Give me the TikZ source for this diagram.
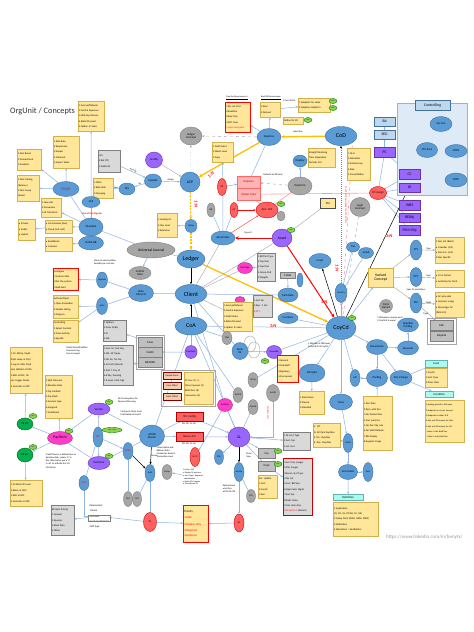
\documentclass[tikz,border=0pt]{standalone}
\usepackage{fontspec}
\setmainfont{Carlito}
\usetikzlibrary{shapes.geometric,arrows.meta,calc}
\definecolor{cblue}{HTML}{5B9BD5}
\definecolor{cbluedk}{HTML}{41719C}
\definecolor{cgray}{HTML}{A6A6A6}
\definecolor{cgraydk}{HTML}{7F7F7F}
\definecolor{cpurp}{HTML}{9966FF}
\definecolor{cpurpdk}{HTML}{7030A0}
\definecolor{cred}{HTML}{FF6161}
\definecolor{cmag}{HTML}{FF3DC8}
\definecolor{cgreen}{HTML}{00B050}
\definecolor{ctag}{HTML}{92D050}
\definecolor{cyel}{HTML}{FFE699}
\definecolor{cyeld}{HTML}{BF9000}
\definecolor{cgbox}{HTML}{D9D9D9}
\definecolor{cgboxd}{HTML}{BFBFBF}
\definecolor{cline}{HTML}{8FB4E3}
\definecolor{ccyan}{HTML}{A9FBEF}
\definecolor{cpink}{HTML}{FF9B9B}
\definecolor{cpinkf}{HTML}{FFB3B3}
\definecolor{cctrl}{HTML}{DEEBF7}
\definecolor{csalmon}{HTML}{F8CBAD}
\definecolor{cthick}{HTML}{FFC000}
\definecolor{cltblue}{HTML}{BDD7EE}
\newcommand\szA{\fontsize{6}{7}\selectfont}
\newcommand\szB{\fontsize{3.8}{4.4}\selectfont}
\newcommand\szC{\fontsize{2.9}{3.4}\selectfont}
\newcommand\szD{\fontsize{2.5}{5.4}\selectfont}
\newcommand\szE{\fontsize{2.4}{3.1}\selectfont}
\newcommand\szT{\fontsize{8.3}{10}\selectfont}
\newcommand\bx[7][ybox]{%
  \pgfmathsetmacro\bxw{#5-#3}\pgfmathsetmacro\bxh{#6-#4}\pgfmathsetmacro\bxt{#5-#3-2}%
  \node[#1,anchor=north west,minimum width=\bxw pt,minimum height=\bxh pt,text width=\bxt pt] (#2) at (#3,#4) {#7};}
\pgfdeclarelayer{back}\pgfdeclarelayer{bg}\pgfsetlayers{back,bg,main}
\tikzset{
 sz/.style 2 args={minimum width=#1pt,minimum height=#2pt},
 ov/.style={ellipse,inner sep=0pt,align=center,font=\szC,line width=0.4pt},
 bov/.style={ov,fill=cblue,draw=cbluedk},
 gov/.style={ov,fill=cgray,draw=cgraydk},
 pov/.style={ov,fill=cpurp,draw=cpurpdk},
 rov/.style={ov,fill=cred,draw=red!80!black},
 mov/.style={ov,fill=cmag,draw=cmag!70!black},
 grov/.style={ov,fill=cgreen,draw=green!40!black},
 tag/.style={ov,fill=ctag,draw=green!50!black,minimum width=8pt,minimum height=5pt,font=\fontsize{1.6}{2}\selectfont},
 ybox/.style={rectangle,fill=cyel,draw=cyeld!70,line width=0.3pt,inner sep=1pt,align=left,font=\szD},
 yrbox/.style={ybox,draw=red,line width=0.6pt},
 gbox/.style={ybox,fill=cgbox,draw=cgraydk},
 grbox/.style={gbox,draw=red!80!black,line width=0.6pt},
 cbox/.style={ybox,fill=cgboxd,draw=cgraydk,align=center,font=\szC},
 pbox/.style={ybox,fill=cpurp,draw=cpurpdk,align=center,font=\szB},
 lbbox/.style={ybox,fill=cltblue,draw=cbluedk,align=center,font=\szB},
 rbox/.style={ybox,fill=cred,draw=red!70!black,align=center,font=\szC},
 pkbox/.style={ybox,fill=cpinkf,draw=red!60,align=center,font=\szC,text=red!70!black},
 cybox/.style={ybox,fill=ccyan,draw=teal!60,align=center,font=\szC},
 sabox/.style={ybox,fill=csalmon,draw=red!50!black,align=center,font=\szE},
 lbl/.style={font=\szE,inner sep=0.3pt,align=left},
 rl/.style={font=\fontsize{4.5}{5}\selectfont\bfseries\itshape,text=red,inner sep=0pt},
 con/.style={draw=cline,line width=0.5pt,-{Stealth[length=2.4pt,width=2pt]}},
 ln/.style={draw=cline,line width=0.5pt},
 gln/.style={draw=cgray,line width=0.4pt},
 gcon/.style={gln,-{Stealth[length=2.4pt,width=2pt]}},
 pln/.style={draw=cpink,line width=0.6pt},
 bcon/.style={draw=black,line width=0.5pt,-{Stealth[length=2.6pt,width=2.2pt]}},
 ycon/.style={draw=cthick,line width=1.3pt,-{Stealth[length=3.5pt,width=3.5pt]}},
 rcon/.style={draw=red,line width=1pt,-{Stealth[length=3.5pt,width=3.5pt]}},
 ocon/.style={draw=cthick,line width=1.2pt,dash pattern=on 2pt off 1.2pt,-{Stealth[length=3pt,width=3pt]}},
}
\begin{document}
\begin{tikzpicture}[x=1pt,y=-1pt]
\begin{pgfonlayer}{back}
\fill[white] (0,0) rectangle (474,632);
\end{pgfonlayer}
\useasboundingbox (0,0) rectangle (474,632);

\node[anchor=west,font=\szT,text=black!80,inner sep=0] (title) at (10,111) {OrgUnit / Concepts};

% ---------- Controlling frame
\node[rectangle,fill=cctrl,draw=cline,line width=0.6pt,anchor=north west,minimum width=70pt,minimum height=92pt,inner sep=0] (ctrlfr) at (397,103) {};
\bx[lbbox]{ctrlhd}{415}{100}{450}{110}{Controlling}

% ---------- top left
\bx{bA}{78}{101}{104}{131}{1.Accrual/Deferral\\2.Central Expenses\\3.Mid-Cap Dimens.\\4.Refer/Proceed\\5.Option Sr Sales}
\bx{bB}{53}{136}{79}{168}{1.Risk Base\\2.Responsive\\3.Simple\\4.Coherent\\5.Import Value}
\bx{bC}{17}{149}{41}{170}{1.Fast Brand\\2.Transactional\\3.Analytics}
\bx{bD}{17}{175}{39}{201}{1.Fast Catalog\\(balance)\\2.Fast Group\\(team)}
\bx{bE}{41}{198}{61}{217}{1.New Hat\\2.Conversion\\3.LE Transform}
\bx{bF}{93}{178}{113}{198}{1.GlPos\\2.Bulk Rate\\3.Grouping}
\bx[gbox]{gG}{98}{150}{120}{172}{LCS\\2.Bck (PI)\\3.AAAA (K)}
\bx{bPriv}{18}{219}{35}{240}{• Private\\• Public\\• Hybrid}
\bx{bOnprem}{45}{220}{72}{233}{• On-Premises [Box]\\• Cloud [Just self]}
\bx{bRoad}{45}{237}{72}{251}{• Roadblocks\\• Cutovers}
\node[bov,sz={26}{15},text=red,font=\szB] (fooh) at (66,189) {FOOH};
\node[bov,sz={18}{11}] (lgs) at (91,202) {LGS};
\node[rl,font=\fontsize{2.5}{3}\selectfont\bfseries] (lgsnote) at (92,214) {Line of the diagram};
\node[bov,sz={24}{18}] (sahaga) at (91,227) {SA-HAGA};
\node[bov,sz={25}{14}] (hanadb) at (91,243) {HANA DB};
\node[bov,sz={16}{12}] (sel) at (127,189) {SEL};
\node[bov,sz={17}{14}] (update) at (153,181) {Update};
\node[pov,sz={17}{16}] (acctby) at (154,160) {AcctBy};

% ---------- left middle
\node[gov,sz={48}{16},font=\szB] (univ) at (151,250) {Universal Journal};
\node[gov,sz={22}{13}] (cdata) at (140,273) {Central\\Data};
\node[bov,sz={25}{17}] (datalc) at (141,293) {Data\\Lifecycle};
\node[bov,sz={11}{16},font=\szE] (agenda) at (102,280) {Agenda};
\node[bov,sz={11}{17},font=\szE] (activ) at (102,306) {Activ};
\bx[yrbox]{bAgenda}{53}{268}{78}{290}{Configure\\1.Custom data\\2.Set the system\\3.Add-built}
\bx{bAct}{53}{295}{78}{318}{Activity/Object\\1.Open Evaluation\\2.Double dating\\3.Program}
\bx{bCtl}{53}{320}{78}{342}{Controlling\\1.Select Controls\\2.Cross-Activity\\3.Specific}
\node[lbl] (meantxt) at (105,262) {Mean to extra/entities\\benefits per cost/Jan};
\node[lbl] (modeltxt) at (77,351) {Model Data Workflow\\Common Flag\\Lists in sequel};
\bx[gbox]{gOpt}{103}{320}{126}{341}{1.Options\\2.Cross Entity\\3.FI\\4.IAA}
\bx[gbox]{gList}{103}{345}{133}{385}{1.Acct GL, Sort Key\\2.HO, Alt Payee\\3.GR Inv, Tol Grp\\4.Int Ind (Interest)\\5.Pmt T, Pay M\\6.E-Pay, Dunning\\7.E-Level, Cash Mgt}
\draw[cgray,line width=0.3pt] (136,335) rectangle (164,369);
\bx[cbox]{gClass}{138}{337}{162}{347}{Class}
\bx[cbox]{gCostel}{138}{347}{162}{357}{CostEl}
\bx[cbox]{gBewbs}{138}{357}{162}{367}{BE/WBS}
\bx{bCC}{10}{347}{42}{393}{1.CC, BLGrp, PayM,\\PayR setup at PayT\\2.Log to MIG; PayR\\also defined at MIG\\3.Edit at PAC; CR\\can trigger blocks\\4.Override at APP}
\bx{bSplit}{45}{375}{72}{418}{1.Split Discount\\2.Baseline Date\\3.Pay Method\\4.Pay Block\\5.Account type\\6.Assigned\\7.Installment}

% ---------- payment / BP
\node[grov,sz={16}{12}] (csv1) at (25,424) {CS Ver};
\node[tag] (t1) at (33,416) {New};
\node[grov,sz={16}{14}] (csv2) at (25,455) {CS Ver};
\node[tag] (t2) at (33,447) {New};
\bx{bCSblock}{10}{480}{42}{506}{1.CS Block ID Level\\2.Block at MIG\\3.Edit at PAC\\4.Override at APP}
\node[mov,sz={25}{13},font=\szB] (payterm) at (60,438) {PayTerm};
\node[tag] (t3) at (69,431) {New};
\node[lbl] (paytxt) at (61,461) {Credit Memo: a default due on\\baseline date, unless 'V' in\\file. Alternative, put a 'V'\\in ref. to activate the 1st\\CN Memo};
\node[pov,sz={22}{12}] (vendor) at (99,409) {Vendor};
\node[tag] (t4) at (109,402) {New};
\node[bov,sz={10}{20},text=red] (bp) at (98,437) {BP};
\node[tag,minimum width=20pt] (t5) at (112,430) {1.Cat / 2.Grp};
\node[pov,sz={22}{13}] (customer) at (99,463) {Customer};
\node[tag] (t6) at (109,456) {New};
\node[bov,sz={10}{17},text=red,font=\szE] (bprel) at (128,451) {BPRel};
\node[bov,sz={10}{15},text=red,font=\szE] (bpg) at (84,483) {BPG};
\node[bov,sz={25}{22}] (apar) at (152,436) {AP/AR\\Master};
\node[bov,sz={10}{17},font=\szE] (accbal) at (150,473) {AcB};
\node[gov,sz={9}{15},font=\szE] (sm1) at (128,499) {SM};
\node[gov,sz={9}{15},font=\szE] (sm2) at (137,499) {SM};
\node[rov,sz={13}{19}] (sl3) at (150,522) {SL};
\bx[gbox]{gBProle}{51}{505}{74}{535}{BP Role Priority\\1.General\\2.Sponsor\\3.Bank Data\\4.Other}
\node[lbl,font=\szD,anchor=north west] (dettxt) at (89,504) {Determinant\\1.Client\\2.BP Role\\3.Activity/ZCOC/Z4\\4.BP Type};
\draw[cgraydk,line width=0.3pt] (88,515) rectangle (110,521);
\node[lbl] (aptxt1) at (128,400) {AS-CS setup dear for\\Payment/Dunning};
\node[lbl] (aptxt2) at (131,413) {1.Setup at Client level\\2.Activated at CoyCd};

% ---------- center column
\node[gov,sz={22}{18}] (ledgc) at (191,136) {Ledger\\Concept};
\node[bov,sz={20}{20},font=\szB] (acp) at (190,182) {ACP};
\node[bov,sz={12}{13},font=\szE] (ldgrp) at (191,226) {LdGrp};
\bx{bLead}{157}{213}{177}{237}{1.Leading GL\\2.Non Lead\\3.Extension}
\node[bov,sz={28}{18},font=\szA] (ledger) at (191,259) {Ledger};
\node[bov,sz={32}{19},font=\szA] (client) at (191,294) {Client};
\node[bov,sz={32}{18},font=\szA] (coa) at (191,326) {CoA};
\node[pov,sz={12}{13},font=\szE] (paymeth) at (191,352) {PayMeth};

% ---------- asset region
\node[bov,sz={24}{17}] (deparea) at (269,137) {DepArea};
\bx[yrbox]{bDepDet}{225}{102}{250}{132}{1.Dis not Post\\2.Realtime\\3.Rep Only\\4.APC, Dep\\\textcolor{red}{1 area must post}}
\node[lbl,font=\fontsize{2.2}{2.6}\selectfont] (depdettxt) at (237,98) {\underline{Dep Det (Asset value is)}};
\bx{bReal}{260}{102}{280}{117}{1.Real\\2.Derived}
\node[lbl,font=\fontsize{2.2}{2.6}\selectfont] (realtxt) at (271,98) {\underline{Real OR Derived value}};
\bx{bAdopt}{298}{98}{330}{112}{1.Adoption for value\\2.Adoption DepTerm}
\node[tag] (t7) at (333,101) {New};
\node[tag] (t8) at (333,108) {New};
\node[lbl] (curtxt) at (289,101) {1.Curr \& Brk};
\bx{bDefine}{283}{117}{303}{124}{Define Dir Elt}
\node[tag] (t9) at (308,120) {New};
\node[lbl] (substxt) at (298,132) {Subst line};
\bx{bFieldSel}{212}{142}{233}{162}{1.Field Select\\2.Maint Level\\3.Copy}
\node[rov,sz={9}{17}] (sl1) at (222,187) {SL};
\bx[pkbox]{pkDep}{237}{176}{260}{188}{DepArea}
\bx[pkbox]{pkMD}{237}{188}{260}{200}{Master Data}
\node[bov,sz={14}{12}] (depkey) at (300,161) {DepKey};
\bx{bStraight}{308}{148}{335}{167}{Straight/Declining\\Time Dependent\\Periodic Ctrl}
\node[gov,sz={24}{18}] (depterm) at (300,186) {DepTerm};
\node[lbl] (deftxt) at (273,175) {Defaults at OR level};
\node[gov,sz={8}{14},font=\szE] (nr) at (211,210) {NR};
\node[rov,sz={8}{15},font=\szE] (ag) at (234,210) {AG};
\node[rov,sz={22}{16}] (accdet) at (267,210) {Acct. Det};
\node[tag] (t10) at (281,204) {New};
\node[gov,sz={8}{10}] (accdg) at (281,216) {};
\node[bov,sz={24}{14}] (assetcl) at (223,238) {Asset Class};
\node[pov,sz={20}{18},font=\szB] (asset) at (282,238) {Asset};
\node[tag] (t11) at (291,230) {New};
\node[lbl] (typeof) at (248,233) {Type of};

% ---------- CoD / controlling
\node[bov,sz={32}{19},font=\szA] (cod) at (341,136) {CoD};
\bx{bCoDl}{347}{148}{370}{180}{1.GL-R\\2.Allocation\\3.Interest exp.\\4.Rate\\5.Consolidation}
\bx[ybox,draw=black!70,line width=0.7pt,align=center,font=\szC]{bPM}{320}{198}{335}{208}{PM}
\node[rov,sz={17}{13}] (coassign) at (378,193) {CO Assign};
\node[gov,sz={20}{19}] (legal) at (360,207) {Legal\\Concept};
\bx[lbbox]{ba}{374}{117}{395}{126}{BA}
\bx[lbbox]{seg}{374}{130}{395}{139}{SEG}
\bx[pbox]{pc}{374}{147}{395}{157}{PC}
\bx[pbox]{cc}{399}{169}{420}{179}{CC}
\bx[pbox]{io}{399}{183}{420}{192}{IO}
\bx[pbox]{wbs}{399}{200}{420}{210}{WBS}
\bx[pbox]{reobj}{399}{213}{420}{222}{REObj}
\bx[pbox]{psm}{399}{225}{420}{235}{PSM/Obj}
\node[bov,sz={22}{15}] (opcon) at (441,124) {Op Con};
\node[bov,sz={21}{15}] (ctrla) at (427,150) {Ctrl Area};
\node[bov,sz={22}{13}] (copa) at (456,151) {COPA};
\node[bov,sz={22}{14}] (copc) at (456,180) {COPC};
\node[rl,font=\fontsize{2.3}{2.6}\selectfont,rotate=-90] (codnote) at (346,205) {CoyCd can be assigned to one CoD only};

% ---------- middle
\node[mov,sz={15}{11},font=\szE] (ptype) at (245,268) {PostType};
\bx[gbox]{gPost}{257}{253}{275}{281}{1.BP/Pmt Type\\2.Cap Post\\3.Cap Post\\4.Group Post\\5.Weights}
\bx[cbox]{gTrate}{280}{272}{295}{278}{T-Rate}
\node[bov,sz={6}{14}] (smb) at (300,280) {};
\node[bov,sz={20}{14}] (exch) at (288,295) {Exch Rate};
\node[bov,sz={20}{11}] (curr) at (288,318) {Currency};
\bx[gbox]{gAcct}{253}{295}{272}{317}{1.Acct By\\2.Rep. F. Act.\\\textcolor{red}{3.CTT}}
\node[mov,sz={10}{7}] (mag2) at (240,300) {};
\bx{bAccr}{223}{302}{252}{331}{1.Accrual/Deferral\\2.Central Expenses\\3.Field Status\\4.Refer/Proceed\\5.Option Sr Sales}
\node[gov,sz={10}{13},font=\szE] (mat) at (227,338) {Mat};
\node[ov,draw=cgray,sz={12}{16}] (bd2) at (250,344) {};
\node[ov,draw=cgray,sz={12}{16}] (bd3) at (254,350) {};
\node[bov,sz={16}{17}] (bankdir) at (240,351) {Bank\\Dir};
\node[pov,sz={15}{13},font=\szE] (hbank) at (274,352) {HouseBk};
\node[tag] (t12) at (265,361) {New};
\bx[yrbox]{bGen}{277}{355}{298}{382}{1.General\\2.Overdraft\\3.Signatory\\4.Correspond.}
\node[gov,sz={10}{15},font=\szE] (acoa) at (253,380) {ACoA};
\node[gov,sz={10}{15},font=\szE] (glcca) at (238,395) {GLCCA};
\node[gov,sz={13}{17},font=\szE] (accb) at (273,393) {AcctB};
\draw[cgray,line width=0.3pt] (161,370) rectangle (215,406);
\bx[sabox]{posted}{163}{372}{181}{379}{Posted Items}
\bx[sabox]{freeo}{163}{382}{181}{389}{Free Offset}
\bx[sabox]{autoo}{163}{393}{181}{400}{Auto Offset}
\bx[ybox,font=\fontsize{2.4}{5.2}\selectfont]{spproc}{184}{372}{213}{404}{SP Proc (F) \textcolor{red}{[x]}\\Other Payment (X)\\BSEG/Acct (B)\\Transaction (G)}
\node[mov,sz={15}{13},font=\szE] (postkey) at (225,405) {PostKey};
\node[gov,sz={10}{15},font=\szE] (glcoa) at (253,407) {GLCoA};

% ---------- GL region
\bx[rbox]{spl}{176}{412}{203}{421}{SPL Config}
\node[lbl] (spltxt) at (189,424) {PR: OG, CL, BL};
\bx[rbox]{recon}{176}{432}{203}{441}{Recon A/C}
\node[lbl] (recontxt) at (189,444) {PR: OG, CL, BL};
\node[pov,sz={22}{20},font=\szB] (gl) at (239,437) {GL};
\node[rl,font=\fontsize{2.3}{2.6}\selectfont,rotate=-90] (taxnote) at (268,413) {Tax/Item Curr.};
\node[rov,sz={10}{19},font=\szE] (deccr) at (195,457) {Dr/Cr};
\node[bov,sz={9}{15},font=\szE] (psg) at (219,457) {PSG};
\node[lbl] (chtxt) at (249,455) {Chart\\Type};
\node[bov,sz={10}{19},font=\szE] (accgp) at (239,472) {AccGp};
\node[gov,sz={9}{13},font=\szE] (fsv2) at (251,496) {FSV};
\node[rov,sz={10}{18}] (sl2) at (239,523) {SL};
\node[gov,sz={10}{15},font=\szE] (comp) at (167,472) {Comp};
\node[lbl] (desctxt) at (166,452) {1.Descriptive and\\Address Data\\2.Linked as Asset in\\Transaction Level};
\node[lbl,font=\fontsize{2.1}{2.9}\selectfont] (fntxt) at (193,477) {Fn Grp / PSG\\• Display GL key/acct\\• Acct Type + Required\\\ \ combination\\• Entity (GL) combo\\• The relevant GL};
\node[lbl] (det2txt) at (229,489) {Determinant\\• AccGrp\\• FSG/GL/OS};
\bx[yrbox]{bPrio}{183}{505}{208}{542}{\fontsize{2.9}{6.4}\selectfont Priority\\\textcolor{red}{1.Hide}\\\textcolor{red}{2.Display Only}\\\textcolor{red}{3.Required}\\\textcolor{red}{4.Optional}}
\bx[gbox]{gGLt}{283}{432}{310}{450}{1.GL Acct Type\\2.Acct Grp\\3.G/L Acct}
\bx[cbox]{gcos}{258}{448}{275}{458}{Cos}
\node[tag] (t14) at (278,451) {New};
\bx[cbox]{gcoyc}{258}{461}{275}{471}{CoyC}
\node[tag] (t15) at (278,464) {New};
\bx[grbox]{gGLd}{283}{458}{312}{515}{1.Acct Grp (range)\\2.FSG (range)\\3.Recon Acct Type\\4.Tax Cat\\5.Curr, BFP key\\6.Open Item Mgmt\\7.Sort key\\8.Field status\\9.Line item disp.\\\textcolor{red}{10.CoyCd Lvl} (Details)}
\bx{bSelU}{258}{475}{277}{498}{Sel. Update\\1.Cost\\2.CoyCd\\3.Doc}

% ---------- right side
\node[bov,sz={22}{15}] (coycl) at (320,261) {CoyCl};
\node[bov,sz={13}{10}] (tax) at (353,247) {Tax};
\node[bov,sz={15}{11}] (jur) at (366,253) {Jurisd};
\node[bov,sz={12}{19},font=\szE] (country) at (341,293) {Country};
\node[bov,sz={30}{23},font=\szA] (coycd) at (341,328) {CoyCd};
\node[tag] (t16) at (352,318) {New};
\bx[ybox,align=center,font=\szB]{bVar}{368}{268}{393}{287}{Variant\\Concept}
\node[bov,sz={12}{20}] (fyv) at (416,250) {FYV};
\node[bov,sz={12}{19}] (ppv) at (416,277) {PPV};
\node[bov,sz={12}{20}] (fsv) at (416,303) {FSV};
\bx{bFYV}{435}{237}{464}{263}{1.Year Ind (fixed)\\• Calendar (4/4)\\• Non-Cal. (4/4)\\2.Year Specific}
\bx{bPPV}{435}{270}{464}{287}{• 12+4 Period\\• Auth/Grp for Perd}
\bx{bFSV}{435}{292}{464}{317}{• AC pine-side\\• Incorrect usage\\• Messenger AC\\(field ctrl)}
\draw[cgray,line width=0.3pt] (427,318) rectangle (456,344);
\bx[cbox]{gesa}{430}{320}{453}{330}{ESA}
\bx[cbox]{gdepl}{430}{331}{453}{341}{Deplete}
\node[lbl] (spectxt) at (416,290) {Spec GL and others};
\node[gov,sz={13}{13}] (fvar) at (386,306) {Fiscal\\Variant};
\node[lbl] (alloctxt) at (390,319) {1.Allocate to require each\\2.CoyCd \& is equal};
\node[bov,sz={21}{14}] (negp) at (408,325) {Negative\\Posting};
\node[bov,sz={21}{15}] (docs) at (377,347) {Documents};
\node[bov,sz={21}{14}] (rev) at (408,348) {Reversal};
\node[bov,sz={21}{17}] (post) at (377,378) {Posting};
\node[bov,sz={22}{15}] (dchg) at (401,378) {Doc Change};
\node[bov,sz={10}{17},font=\szE] (ldp) at (355,378) {LdP};
\bx[cybox]{cyLev}{425}{360}{447}{367}{Level}
\bx{bLev}{425}{368}{447}{387}{1.CoyCd\\2.Acct Type\\3.Trans Class}
\bx[cybox]{cyCond}{425}{391}{453}{397}{Condition}
\bx[ybox,font=\fontsize{2.2}{5.3}\selectfont]{bCond}{425}{400}{464}{442}{1.posting period is still open\\2.Endpoint is not yet cleared\\3.Endpoint is either D/K\\4.also not DR money for Mat\\5.also not DR money for AR\\- Items is the field Doc\\- Mark is only field Doc}
\node[bov,sz={26}{18}] (dsplit) at (312,373) {DocSplit};
\node[lbl] (dstxt) at (319,345) {1.Allocate at CBR level\\2.CoyCd/FI at CoyCd};
\bx{bInh}{299}{391}{324}{414}{1.Inheritance\\2.Passive\\3.Standard}
\node[bov,sz={23}{16}] (tools) at (341,402) {Tools};
\bx{bIST}{313}{423}{340}{447}{4. IST\\N. All Ppal Dup/Rev\\F. Fin. Dup/Rev\\S. Des. Dup/Rev}
\bx{bDocD}{363}{396}{392}{450}{1.Doc Date\\2.Item with Doc\\3.No Posted item\\4.Curr pack/Inv.\\5.No Doc Chg rule\\6.No Valid Defined\\7.Blk Display\\8.Support Image}
\node[bov,sz={10}{19},font=\szE] (collct) at (348,443) {Collct};
\node[bov,sz={19}{15}] (gens) at (348,472) {Gen/Subst};
\node[bov,sz={10}{19},font=\szE] (sets) at (368,472) {Sets};
\bx[cybox]{cyDef}{333}{494}{363}{500}{Definition}
\bx{bAppl}{333}{502}{378}{536}{1.Application\\(FI, CO, GL, PC/AR, CS, GA)\\2.Callup Point (0001, 0002, 0003)\\3.Definitions\\4.Allocations / Verification}
\node[font=\fontsize{5}{6}\selectfont,text=black!40,anchor=west,inner sep=0] (url) at (386,537) {https://www.linkedin.com/in/benytx/};

% ---------- red 1:N labels
\node[rl,rotate=40] (n1) at (211,175) {1:N};
\node[rl,rotate=-90] (n2) at (196,204) {1:N};
\node[rl] (n3) at (273,326) {1:N};
\node[rl,rotate=-90] (n4) at (337,268) {1:N};
\node[rl] (n5) at (324,302) {1:N};
\node[rl] (n6) at (389,236) {1:N};

% ---------- connectors
\begin{pgfonlayer}{bg}
\draw[con] (lgs) -- (bA);
\draw[con] (fooh) -- (bB);
\draw[con] (fooh) -- (bC);
\draw[con] (fooh) -- (bD);
\draw[ln] (fooh) -- (sahaga);
\draw[con] (sahaga) -- (bE);
\draw[ln] (lgs) -- (sahaga);
\draw[con] (sel) -- (bF) node[midway,above,lbl]{Low};
\draw[con] (update) -- (sel) node[midway,above,lbl]{Sp};
\draw[con] (gG) -- (update) node[midway,sloped,above,lbl]{Acct By};
\draw[con] (sahaga) -- (bOnprem);
\draw[con] (bOnprem) -- (bPriv);
\draw[con] (hanadb) -- (bRoad);
\draw[ln] (sahaga) -- (univ);
\draw[con] (univ) -- (cdata);
\draw[ln] (univ) -- (ledger);
\draw[ln] (datalc) -- (agenda);
\draw[ln] (datalc) -- (activ);
\draw[con] (agenda) -- (bAgenda);
\draw[con] (activ) -- (bAct);
\draw[con] (activ) -- (bCtl);
\draw[ln] (datalc) -- (client);
\draw[con] (gClass) -- (gOpt);
\draw[con] (gBewbs) -- (gList);
\draw[con] (paymeth) -- (gCostel);
\draw[ln] (coa) -- (paymeth);
% payment
\draw[con] (csv1) -- (bCC);
\draw[con] (payterm) -- (bSplit);
\draw[con] (payterm) -- (csv1);
\draw[con] (payterm) -- (csv2);
\draw[con] (csv2) -- (bCSblock);
\draw[ln] (payterm) -- (vendor);
\draw[ln] (payterm) -- (customer);
\draw[con] (bp) -- (vendor);
\draw[con] (bp) -- (customer);
\draw[ln] (vendor) -- (apar);
\draw[ln] (customer) -- (apar);
\draw[con] (bp) -- (bprel);
\draw[bcon] (apar) -- (accbal) node[midway,right,lbl]{Recon};
\draw[bcon] (bprel) -- (accbal);
\draw[ln] (bprel) -- (sm1);
\draw[ln] (accbal) -- (sm2);
\draw[ln] (accbal) -- (sl3);
\draw[con] (sl3) -- (dettxt);
\draw[con] (dettxt) -- (gBProle);
\draw[ln] (bp) -- (bpg);
\draw[ln] (bpg) |- (dettxt.west);
\draw[ln] (coa) -- (apar);
\draw[con] (apar) -- (spl);
\draw[con] (apar) -- (recon);
\draw[con] (spl) -- (gl);
\draw[con] (recon) -- (gl);
\draw[bcon] (gl) -- (accgp);
\draw[con] (accgp) -- (sl2);
\draw[ln] (accgp) -- (fsv2);
\draw[con] (sl2) -- (bPrio);
\draw[con] (sl3) -- (bPrio);
\draw[con] (gl) -- (psg);
\draw[con] (postkey) -- (deccr);
\draw[ln] (postkey) -- (gl);
\draw[ln] (glcoa) -- (gl);
\draw[ln] (coa) -- (gl);
\draw[con] (gl) -- (gGLt);
\draw[con] (gl) -- (gcos);
\draw[ln] (gl) -- (gcoyc);
\draw[con] (gcoyc) -- (gGLd);
\draw[con] (fntxt) -- (comp);
\draw[con] (accb) |- (gl);
% center
\draw[bcon] (ledger) -- (client);
\draw[bcon] (coa) -- (client);
\draw[ocon] (acp) -- (ldgrp);
\draw[ocon] (ldgrp) -- (ledger);
\draw[con] (ldgrp) -- (bLead);
\draw[gcon,dotted] (acp) -- (ledgc);
\draw[gcon,dashed] (deparea) -- (ledgc);
\draw[gcon] (update) -- (acp) node[midway,above,lbl]{Assign};
\draw[gcon] (acctby) -- (acp);
\draw[ycon] (deparea) -- (acp);
\draw[ycon] (cod) -- (deparea);
\draw[con] (deparea) -- (bDepDet);
\draw[con] (deparea) -- (bReal);
\draw[con] (bReal) -- (bAdopt);
\draw[ln] (deparea) -- (pkDep);
\draw[gcon,dashed] (depterm) -- (pkDep);
\draw[con] (sl1) -- (pkDep);
\draw[con] (assetcl) -- (bFieldSel);
\draw[ln] (assetcl) -- (nr);
\draw[ln] (assetcl) -- (ag);
\draw[con,draw=red] (ag) -- (accdet);
\draw[pln] (depterm) -- (accdet);
\draw[pln] (pkMD.east) -- (coassign);
\draw[pln] (pkMD) -- (accdet);
\draw[rcon] (asset) -- (assetcl);
\draw[con,draw=red!70] (assetcl) -- (accdet);
\draw[rcon] (asset) -- (coycd);
\draw[con] (depterm) -- (depkey);
\draw[con] (depkey) -- (bStraight);
\draw[draw=red!70,line width=0.6pt,dash pattern=on 1pt off 1pt,-{Stealth[length=2.6pt,width=2.2pt,black]}] (country) -- (cod);
\draw[pln,dashed] (coycd) -- (cod.south east);
\draw[ln] (coassign) -- (pc);
\draw[ln] (coassign) -- (cc);
\draw[ln] (coassign) -- (io);
\draw[ln] (coassign) -- (wbs);
\draw[ln] (coassign) -- (reobj);
\draw[ln] (coassign) -- (psm);
\draw[con] (pc) -- (seg);
\draw[con] (seg) -- (ba);
\draw[ln] (cc) -- (pc);
\draw[con] (cc) -- (ctrla);
\draw[bcon] (coycd) -- (ctrla);
\draw[con] (ctrla) -- (opcon);
\draw[con] (copa) -- (opcon);
\draw[ln] (copc) -- (ctrla);
\draw[gln,dashed] (legal) -- (coycd);
\draw[gln] (bPM) -- (asset);
\draw[ycon] (ledger) -- (coycd);
\draw[con] (coycd) -- (bVar);
\draw[gcon] (bVar) -- (fyv);
\draw[gcon] (bVar) -- (ppv);
\draw[gcon] (bVar) -- (fsv);
\draw[gcon] (fyv) -- (bFYV) node[midway,above,lbl]{Type};
\draw[gcon] (ppv) -- (bPPV) node[midway,above,lbl]{Type};
\draw[gcon] (fsv) -- (bFSV) node[midway,above,lbl]{Fields};
\draw[gcon] (fsv) -- (gesa) node[midway,left,lbl]{Type};
\draw[con] (coycd) -- (docs);
\draw[con] (docs) -- (rev);
\draw[con] (docs) -- (post);
\draw[con] (docs) -- (dchg);
\draw[con] (rev) -- (negp);
\draw[con] (post) -- (ldp);
\draw[con] (bDocD) -- (post);
\draw[con] (dchg) -- (cyLev);
\draw[con] (dchg) -- (cyCond);
\draw[con] (coycd) -- (dsplit);
\draw[con] (coycd) -- (tools);
\draw[con] (coycd) -- (ldp);
\draw[con] (coycd) -- (country);
\draw[bcon] (coycd) -- (coycl);
\draw[ln] (country) -- (tax);
\draw[ln] (country) -- (jur);
\draw[con] (tools) -- (collct);
\draw[con] (collct) -- (bIST);
\draw[con] (collct) -- (gens);
\draw[con] (gens) -- (sets);
\draw[con] (gens) -- (cyDef);
\draw[con] (dsplit) -- (bInh);
\draw[ln] (coa) -- (coycd);
\draw[gln] (assetcl) -- (client);
\draw[gln] (asset) -- (client);
\draw[gln] (ptype) -- (client);
\draw[gln] (bAccr) -- (client);
\draw[con] (gPost) -- (ptype);
\draw[ln] (exch) -- (client);
\draw[ln] (curr) -- (coycd);
\draw[con] (gTrate) -- (exch);
\draw[ln] (client) -- (bankdir);
\draw[con] (bankdir) -- (hbank);
\draw[con] (hbank) -- (bGen);
\draw[ln] (coa) -- (glcca);
\draw[ln] (coa) -- (mat);
\draw[ln] (client) -- (postkey);
\draw[ln] (coycd) -- (hbank);
\draw[ln] (coycd) -- (acoa);
\end{pgfonlayer}
\end{tikzpicture}
\end{document}
